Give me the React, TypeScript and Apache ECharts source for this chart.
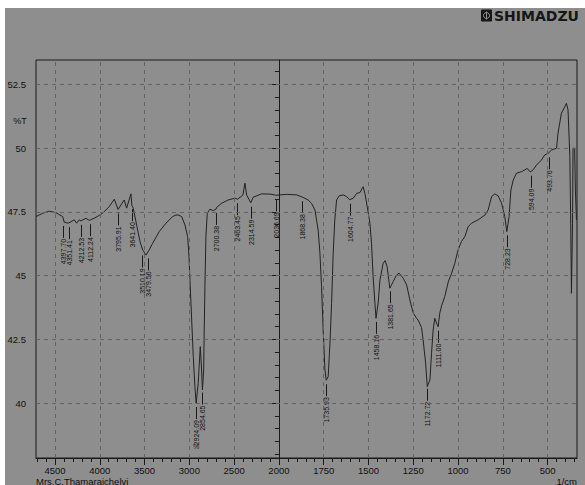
import React, { useEffect, useRef } from "react";
import * as echarts from "echarts";

// Spectrum: [wavenumber (1/cm), %T]
const spectrum: [number, number][] = [
  [4712, 47.32], [4637, 47.45], [4564, 47.53], [4489, 47.47], [4414, 47.32], [4397, 47.1],
  [4352, 47.06], [4321, 47.12], [4285, 47.19], [4258, 47.06], [4229, 47.19], [4212, 47.15],
  [4154, 47.25], [4117, 47.17], [4042, 47.29], [3968, 47.45], [3894, 47.71], [3838, 48.0],
  [3796, 47.6], [3727, 47.97], [3700, 47.65], [3652, 48.21], [3641, 47.75], [3626, 47.65],
  [3596, 47.12], [3551, 46.34], [3521, 46.01], [3510, 45.95], [3484, 45.81], [3448, 46.01],
  [3410, 46.27], [3336, 46.73], [3261, 47.06], [3186, 47.32], [3150, 47.38], [3124, 47.38],
  [3086, 47.32], [3049, 46.99], [3019, 46.53], [3004, 45.75], [2990, 44.57], [2974, 43.26],
  [2956, 41.83], [2938, 40.65], [2924, 40.0], [2901, 40.78], [2878, 42.22], [2863, 41.3],
  [2854, 40.52], [2840, 41.3], [2834, 42.87], [2826, 44.57], [2815, 46.53], [2800, 47.45],
  [2770, 47.61], [2733, 47.55], [2700, 47.62], [2695, 47.68], [2640, 47.84], [2566, 47.97],
  [2491, 48.04], [2463, 48.0], [2424, 48.1], [2402, 48.17], [2379, 48.63], [2361, 48.17],
  [2314, 47.86], [2287, 48.08], [2193, 48.21], [2100, 48.2], [2045, 48.17], [2036, 48.15],
  [1994, 48.17], [1957, 48.19], [1901, 48.17], [1868, 48.08], [1837, 47.97], [1818, 47.84],
  [1799, 47.58], [1781, 46.79], [1771, 45.88], [1762, 44.57], [1753, 42.87], [1743, 41.3],
  [1736, 40.9], [1725, 41.04], [1715, 42.35], [1706, 43.92], [1697, 45.88], [1688, 47.19],
  [1678, 47.97], [1664, 48.13], [1641, 48.17], [1622, 48.1], [1605, 47.98], [1585, 48.04],
  [1566, 48.23], [1548, 48.26], [1530, 48.49], [1520, 48.23], [1507, 47.71], [1492, 47.06],
  [1483, 46.27], [1474, 44.96], [1464, 43.92], [1458, 43.33], [1446, 43.92], [1436, 44.83],
  [1418, 45.49], [1407, 45.59], [1396, 45.35], [1381, 44.51], [1362, 44.77], [1343, 45.03],
  [1329, 45.1], [1306, 44.9], [1287, 44.64], [1269, 44.05], [1251, 43.55], [1232, 43.33],
  [1223, 43.26], [1204, 42.97], [1195, 42.48], [1181, 41.57], [1172, 40.65], [1157, 40.91],
  [1148, 41.96], [1139, 42.87], [1130, 43.33], [1120, 43.14], [1111, 43.0], [1102, 43.53],
  [1092, 43.82], [1074, 44.18], [1055, 44.75], [1036, 45.1], [1018, 45.49], [1000, 46.01],
  [981, 46.34], [962, 46.53], [944, 46.92], [925, 47.06], [888, 47.19], [850, 47.38],
  [832, 47.58], [813, 48.1], [795, 48.21], [776, 48.13], [757, 47.84], [739, 47.32],
  [728, 46.73], [715, 47.32], [705, 48.36], [692, 48.75], [674, 49.02], [646, 49.08],
  [627, 49.15], [614, 49.21], [599, 49.08], [594, 49.08], [581, 49.15], [562, 49.34],
  [534, 49.54], [516, 49.74], [497, 49.8], [494, 49.8], [478, 49.93], [450, 50.0],
  [442, 50.59], [423, 51.37], [404, 51.63], [395, 51.76], [386, 51.5], [376, 49.67],
  [371, 47.06], [367, 44.31], [361, 47.06], [358, 50.0], [349, 50.0], [345, 48.36],
  [339, 47.19],
];

const peakLabels: string[] = [
  "4397.70", "4351.41", "4212.53", "4112.24", "3795.91", "3641.40", "3510.19", "3479.56",
  "2924.09", "2854.65", "2700.38", "2463.45", "2314.59", "2036.69", "1868.38", "1735.93",
  "1604.77", "1458.16", "1381.65", "1172.72", "1111.00", "728.23", "594.09", "493.76",
];

const xTickLabels: number[] = [4500, 4000, 3500, 3000, 2500, 2000, 1750, 1500, 1250, 1000, 750, 500];
const yTickLabels: number[] = [40, 42.5, 45, 47.5, 50, 52.5];

const X_MIN_WN = 4712;
const X_MAX_WN = 336;
const Y_MIN = 37.85;
const Y_MAX = 53.46;

// Shimadzu chart: 500/cm per division above 2000, 250/cm per division below
function toU(wn: number): number {
  return wn >= 2000 ? (2000 - wn) / 500 : (2000 - wn) / 250;
}
function fromU(u: number): number {
  return u <= 0 ? 2000 - u * 500 : 2000 - u * 250;
}
function interpT(wn: number): number {
  for (let i = 0; i < spectrum.length - 1; i++) {
    const [w1, t1] = spectrum[i];
    const [w2, t2] = spectrum[i + 1];
    if (wn <= w1 && wn >= w2) {
      const f = w1 === w2 ? 0 : (w1 - wn) / (w1 - w2);
      return t1 + (t2 - t1) * f;
    }
  }
  return spectrum[spectrum.length - 1][1];
}

const NARROW = "'Liberation Sans Narrow', 'Liberation Sans', Arial, sans-serif";
const SANS = "'Liberation Sans', Arial, sans-serif";
const MIN_LABEL_GAP = 5.6;

export default function App() {
  const ref = useRef<HTMLDivElement>(null);
  useEffect(() => {
    if (!ref.current) return;
    const chart = echarts.init(ref.current, undefined, { renderer: "svg" });
    const uMin = toU(X_MIN_WN);
    const uMax = toU(X_MAX_WN);
    const xMajor = xTickLabels.map(toU);
    const xMinor: number[] = [];
    for (let k = Math.ceil(uMin * 5); k <= Math.floor(uMax * 5); k++) xMinor.push(k / 5);
    const yMinor: number[] = [];
    for (let k = Math.ceil(Y_MIN * 2); k <= Math.floor(Y_MAX * 2); k++) yMinor.push(k / 2);

    const gridLineStyle = { color: "#626262", type: [4, 4] as any, width: 1 };
    const markData: any[] = [];
    xTickLabels.forEach((w) => {
      if (w === 2000) {
        markData.push({ xAxis: toU(w), lineStyle: { color: "#1a1a1a", type: "solid", width: 1 } });
      } else {
        markData.push({ xAxis: toU(w), lineStyle: gridLineStyle });
      }
    });
    yTickLabels.forEach((v) => markData.push({ yAxis: v, lineStyle: gridLineStyle }));

    const peakData = peakLabels.map((s) => {
      const w = parseFloat(s);
      return [toU(w), interpT(w)];
    });

    const option: any = {
      animation: false,
      backgroundColor: "#ffffff",
      grid: {
        left: 36,
        right: 8,
        top: 60,
        bottom: 27,
        show: true,
        borderColor: "#1a1a1a",
        borderWidth: 1,
        backgroundColor: "transparent",
      },
      graphic: [
        { type: "rect", z: -10, silent: true, shape: { x: 5, y: 8, width: 580, height: 477 }, style: { fill: "#8e8e8e" } },
        { type: "rect", z: 10, shape: { x: 481, y: 9.5, width: 11, height: 12, r: 1 }, style: { fill: "#161616" } },
        { type: "circle", z: 11, shape: { cx: 486.5, cy: 15.5, r: 3 }, style: { fill: "none", stroke: "#8e8e8e", lineWidth: 1 } },
        { type: "line", z: 11, shape: { x1: 486.5, y1: 11.5, x2: 486.5, y2: 19.5 }, style: { stroke: "#8e8e8e", lineWidth: 1 } },
        {
          type: "text", z: 10, x: 494, y: 15.5,
          style: { text: "SHIMADZU", fontFamily: "'DejaVu Sans', sans-serif", fontWeight: "bold", fontSize: 14, fill: "#161616", verticalAlign: "middle" },
        },
        {
          type: "text", z: 10, x: 20, y: 121,
          style: { text: "%T", fontFamily: NARROW, fontSize: 9, fill: "#111", align: "center", verticalAlign: "middle" },
        },
        {
          type: "text", z: 10, x: 196, y: 446,
          style: { text: "%", fontFamily: NARROW, fontSize: 7, fill: "#222", align: "center", verticalAlign: "middle" },
        },
        {
          type: "text", z: 10, x: 36, y: 476,
          style: { text: "Mrs.C.Thamaraichelvi", fontFamily: NARROW, fontSize: 9.5, fill: "#111", verticalAlign: "top" },
        },
        {
          type: "text", z: 10, x: 577, y: 476,
          style: { text: "1/cm", fontFamily: NARROW, fontSize: 9.5, fill: "#111", align: "right", verticalAlign: "top" },
        },
      ],
      xAxis: [
        {
          type: "value",
          min: uMin,
          max: uMax,
          position: "bottom",
          axisLine: { show: true, lineStyle: { color: "#1a1a1a", width: 1 } },
          axisTick: { show: true, customValues: xMajor, length: 7, lineStyle: { color: "#1a1a1a" } },
          axisLabel: {
            show: true,
            customValues: xMajor,
            margin: 7,
            fontSize: 9.5,
            fontFamily: NARROW,
            color: "#111",
            formatter: (v: number) => String(Math.round(fromU(v))),
          },
          splitLine: { show: false },
        },
        {
          type: "value",
          min: uMin,
          max: uMax,
          position: "bottom",
          axisLine: { show: false },
          axisTick: { show: true, customValues: xMinor, length: 4, lineStyle: { color: "#1a1a1a" } },
          axisLabel: { show: false },
          splitLine: { show: false },
        },
      ],
      yAxis: [
        {
          type: "value",
          min: Y_MIN,
          max: Y_MAX,
          position: "left",
          axisLine: { show: true, lineStyle: { color: "#1a1a1a", width: 1 } },
          axisTick: { show: true, customValues: yTickLabels, length: 8, lineStyle: { color: "#1a1a1a" } },
          axisLabel: {
            show: true,
            customValues: yTickLabels,
            margin: 10,
            fontSize: 9.5,
            fontFamily: NARROW,
            color: "#111",
            formatter: (v: number) => String(v),
          },
          splitLine: { show: false },
        },
        {
          type: "value",
          min: Y_MIN,
          max: Y_MAX,
          position: "left",
          axisLine: { show: false },
          axisTick: { show: true, customValues: yMinor, length: 4, lineStyle: { color: "#1a1a1a" } },
          axisLabel: { show: false },
          splitLine: { show: false },
        },
      ],
      series: [
        {
          type: "line",
          xAxisIndex: 0,
          yAxisIndex: 0,
          data: spectrum.map(([w, t]) => [toU(w), t]),
          showSymbol: false,
          symbol: "none",
          lineStyle: { color: "#222222", width: 1 },
          z: 3,
          markLine: {
            silent: true,
            symbol: ["none", "none"],
            label: { show: false },
            animation: false,
            data: markData,
          },
        },
        {
          type: "custom",
          xAxisIndex: 0,
          yAxisIndex: 0,
          z: 4,
          data: peakData,
          renderItem: (params: any, api: any) => {
            // pixel x of every label, spread apart so neighbouring labels do not overlap
            const xs = peakData.map((d) => api.coord(d)[0]);
            for (let pass = 0; pass < 4; pass++) {
              for (let i = 1; i < xs.length; i++) {
                const gap = xs[i] - xs[i - 1];
                if (gap < MIN_LABEL_GAP) {
                  const d = (MIN_LABEL_GAP - gap) / 2;
                  xs[i - 1] -= d;
                  xs[i] += d;
                }
              }
            }
            const p = api.coord([api.value(0), api.value(1)]);
            const x = Math.round(xs[params.dataIndex]) + 0.5;
            const y0 = p[1];
            return {
              type: "group",
              children: [
                {
                  type: "line",
                  shape: { x1: x, y1: y0 + 4, x2: x, y2: y0 + 16 },
                  style: { stroke: "#1a1a1a", lineWidth: 1 },
                },
                {
                  type: "text",
                  x: x,
                  y: y0 + 17,
                  rotation: Math.PI / 2,
                  style: {
                    text: peakLabels[params.dataIndex],
                    fontFamily: SANS,
                    fontSize: 7,
                    fill: "#111",
                    align: "right",
                    verticalAlign: "middle",
                  },
                },
              ],
            };
          },
        },
      ],
    };
    chart.setOption(option);
    return () => chart.dispose();
  }, []);
  return (
    <div
      ref={ref}
      style={{ position: "absolute", left: 0, top: 0, width: 585, height: 485 }}
    />
  );
}
